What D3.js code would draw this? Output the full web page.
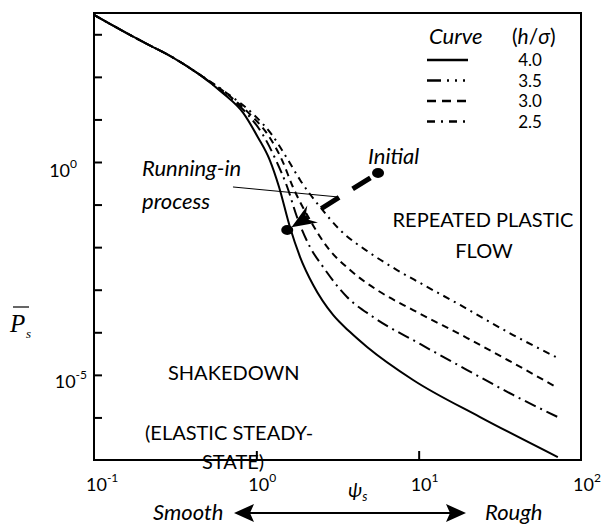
<!DOCTYPE html>
<html>
<head>
<meta charset="utf-8">
<script src="https://cdn.jsdelivr.net/npm/d3@7"></script>
<style>
  body { margin: 0; background: #fff; }
  text { font-family: Lato, "Noto Sans", sans-serif; fill: #000; }
</style>
</head>
<body>
<script>
// values (psi_s on x, P_s on y, both log)
const hRatio = ["4.0", "3.5", "3.0", "2.5"];

const psi40 = [0.1, 0.19, 0.31, 0.45, 0.62, 0.83, 1.02, 1.21, 1.38, 1.61, 1.86, 2.24, 2.97, 3.78, 4.81, 9.24, 23.9, 72];
const p40   = [2840, 735, 277, 111, 41.8, 14.2, 3.87, 1.11, 0.259, 0.0297, 0.00586, 0.00129, 2.55e-4, 1.01e-4, 4.51e-5, 7.57e-6, 1.02e-6, 1.17e-7];

const psi35 = [0.1, 0.19, 0.31, 0.45, 0.64, 0.88, 1.10, 1.32, 1.55, 1.78, 2.14, 2.58, 3.62, 5.24, 10.2, 19.9, 38.2, 72];
const p35   = [2840, 735, 277, 111, 39.6, 13.4, 4.31, 1.11, 0.259, 0.0511, 0.0101, 0.00341, 6.74e-4, 2.29e-4, 5.31e-5, 1.30e-5, 3.37e-6, 1.02e-6];

const psi30 = [0.1, 0.19, 0.31, 0.45, 0.66, 0.91, 1.18, 1.44, 1.68, 2.14, 2.73, 3.78, 5.54, 9.24, 19.9, 38.2, 72];
const p30   = [2840, 735, 277, 111, 39.6, 13.4, 4.31, 1.11, 0.259, 0.0434, 0.0101, 0.00290, 9.84e-4, 3.33e-4, 7.33e-5, 1.90e-5, 4.91e-6];

const psi25 = [0.1, 0.19, 0.31, 0.45, 0.67, 0.955, 1.25, 1.57, 1.86, 2.47, 3.28, 5.02, 7.36, 10.2, 18.0, 38.2, 72];
const p25   = [2840, 735, 277, 111, 39.6, 13.4, 4.31, 1.11, 0.378, 0.0877, 0.0253, 0.00728, 0.00290, 0.00144, 4.38e-4, 8.63e-5, 2.49e-5];

const xTicks = [0.1, 1, 10, 100];
const xTickExp = ["-1", "0", "1", "2"];
const yTicks = [1e3, 1e2, 1e1, 1e0, 1e-1, 1e-2, 1e-3, 1e-4, 1e-5, 1e-6];
const yLabelTicks = [1e0, 1e-5];
const yLabelExp = ["0", "-5"];

// running-in arrow: initial state -> final state, and leader line of the label
const initialPt = [5.62, 0.552];
const finalPt = [1.55, 0.0253];
const leaderPts = [[0.718, 0.259], [3.18, 0.151]];

var margin = {top: 13, right: 24, bottom: 65, left: 94},
    width = 605 - margin.left - margin.right,
    height = 525 - margin.top - margin.bottom;

var svg = d3.select("body").append("svg")
    .attr("width", 605)
    .attr("height", 525);

var g = svg.append("g")
    .attr("transform", "translate(" + margin.left + "," + margin.top + ")");

var x = d3.scaleLog().domain([0.1, 100]).range([0, width]);
var y = d3.scaleLog().domain([1e-7, Math.pow(10, 3.5)]).range([height, 0]);

// inward ticks
var yAx = g.append("g")
    .call(d3.axisRight(y).tickValues(yTicks).tickSize(8).tickFormat(""));
yAx.select(".domain").remove();
yAx.selectAll("line").attr("stroke-width", 2);

var xAx = g.append("g")
    .attr("transform", "translate(0," + height + ")")
    .call(d3.axisTop(x).tickValues([1, 10]).tickSize(9).tickFormat(""));
xAx.select(".domain").remove();
xAx.selectAll("line").attr("stroke-width", 2);

// x tick labels
xTicks.forEach(function(v, i) {
  var t = g.append("text")
      .attr("x", x(v) - 8)
      .attr("y", height + 31)
      .attr("font-size", 18)
      .text("10");
  t.append("tspan").attr("dy", -9).attr("font-size", 12).text(xTickExp[i]);
});

// y tick labels
yLabelTicks.forEach(function(v, i) {
  var t = g.append("text")
      .attr("x", i == 0 ? -17 : -7)
      .attr("y", y(v) + (i == 0 ? 15 : 13))
      .attr("text-anchor", "end")
      .attr("font-size", 18)
      .text("10");
  t.append("tspan").attr("dy", -9).attr("font-size", 12).text(yLabelExp[i]);
});

// curves
var series = [
  {h: hRatio[0], psi: psi40, p: p40, dash: null},
  {h: hRatio[1], psi: psi35, p: p35, dash: "12,5,2,5"},
  {h: hRatio[2], psi: psi30, p: p30, dash: "7,5"},
  {h: hRatio[3], psi: psi25, p: p25, dash: "7,5,2,5"}
];
var legendDash = [null, "14,6,2,6,2,6,2,6", "9,6", "8,6,2,6"];

var line = d3.line()
    .x(function(d) { return x(d[0]); })
    .y(function(d) { return y(d[1]); })
    .curve(d3.curveMonotoneX);

series.forEach(function(s) {
  g.append("path")
      .datum(d3.zip(s.psi, s.p))
      .attr("fill", "none")
      .attr("stroke", "#000")
      .attr("stroke-width", 2)
      .attr("stroke-dasharray", s.dash)
      .attr("d", line);
});

// frame
g.append("rect")
    .attr("width", width).attr("height", height)
    .attr("fill", "none").attr("stroke", "#000").attr("stroke-width", 2);

// legend
svg.append("text").attr("x", 429).attr("y", 44).attr("font-size", 22)
    .attr("font-style", "italic").text("Curve");
var lt = svg.append("text").attr("x", 512).attr("y", 44).attr("font-size", 21);
lt.append("tspan").text("(");
lt.append("tspan").attr("font-style", "italic").text("h");
lt.append("tspan").text("/");
lt.append("tspan").attr("font-style", "italic").text("σ");
lt.append("tspan").text(")");

series.forEach(function(s, i) {
  var ly = 60 + i * 20.5;
  svg.append("line")
      .attr("x1", 427).attr("x2", 468).attr("y1", ly).attr("y2", ly)
      .attr("stroke", "#000").attr("stroke-width", 2.5)
      .attr("stroke-dasharray", legendDash[i]);
  svg.append("text").attr("x", 530).attr("y", ly + 6)
      .attr("text-anchor", "middle").attr("font-size", 17).text(s.h);
});

// running-in annotation
g.append("line")
    .attr("x1", x(leaderPts[0][0])).attr("y1", y(leaderPts[0][1]))
    .attr("x2", x(leaderPts[1][0])).attr("y2", y(leaderPts[1][1]))
    .attr("stroke", "#000").attr("stroke-width", 1);

var a = [x(initialPt[0]), y(initialPt[1])],
    b = [x(finalPt[0]), y(finalPt[1])];
var dx = b[0] - a[0], dy = b[1] - a[1], len = Math.sqrt(dx * dx + dy * dy);
var ux = dx / len, uy = dy / len, px = -uy, py = ux;
var tip = [b[0] - 5 * ux, b[1] - 5 * uy];
var notch = [tip[0] - 16 * ux, tip[1] - 16 * uy];

g.append("line")
    .attr("x1", a[0]).attr("y1", a[1])
    .attr("x2", notch[0]).attr("y2", notch[1])
    .attr("stroke", "#000").attr("stroke-width", 5)
    .attr("stroke-dasharray", "21,16").attr("stroke-dashoffset", 28);

var back = [tip[0] - 25 * ux, tip[1] - 25 * uy];
g.append("path")
    .attr("d", "M" + tip + "L" + [back[0] + 10 * px, back[1] + 10 * py] +
         "L" + notch + "L" + [back[0] - 10 * px, back[1] - 10 * py] + "Z")
    .attr("fill", "#000");

[a, b].forEach(function(c) {
  g.append("ellipse").attr("cx", c[0]).attr("cy", c[1])
      .attr("rx", 6).attr("ry", 5).attr("fill", "#000");
});

// region labels
svg.append("text").attr("x", 142).attr("y", 176).attr("font-size", 22)
    .attr("font-style", "italic").text("Running-in");
svg.append("text").attr("x", 142).attr("y", 209).attr("font-size", 22)
    .attr("font-style", "italic").text("process");
svg.append("text").attr("x", 368).attr("y", 164).attr("font-size", 22)
    .attr("font-style", "italic").text("Initial");
svg.append("text").attr("x", 483).attr("y", 227).attr("font-size", 20)
    .attr("text-anchor", "middle").text("REPEATED PLASTIC");
svg.append("text").attr("x", 484).attr("y", 258).attr("font-size", 20)
    .attr("text-anchor", "middle").text("FLOW");
svg.append("text").attr("x", 168).attr("y", 380).attr("font-size", 20)
    .text("SHAKEDOWN");
svg.append("text").attr("x", 145).attr("y", 440).attr("font-size", 20)
    .text("(ELASTIC STEADY-");
svg.append("text").attr("x", 202).attr("y", 469).attr("font-size", 20)
    .text("STATE)");

// axis titles
svg.append("text").attr("x", 10).attr("y", 332)
    .style("font-family", "'Liberation Serif', serif")
    .attr("font-size", 25).attr("font-style", "italic").text("P");
svg.append("line").attr("x1", 13).attr("x2", 29).attr("y1", 307).attr("y2", 307)
    .attr("stroke", "#000").attr("stroke-width", 1.2);
svg.append("text").attr("x", 26).attr("y", 338)
    .style("font-family", "'Liberation Serif', serif")
    .attr("font-size", 13).attr("font-style", "italic").text("s");

var xt = svg.append("text").attr("x", 348).attr("y", 497).attr("font-size", 20)
    .attr("font-style", "italic");
xt.append("tspan").text("ψ");
xt.append("tspan").attr("dy", 4).attr("font-size", 13).text("s");

// smooth <-> rough arrow
svg.append("text").attr("x", 153).attr("y", 520).attr("font-size", 22)
    .attr("font-style", "italic").text("Smooth");
svg.append("text").attr("x", 485).attr("y", 520).attr("font-size", 22)
    .attr("font-style", "italic").text("Rough");
svg.append("line").attr("x1", 245).attr("x2", 455).attr("y1", 513).attr("y2", 513)
    .attr("stroke", "#000").attr("stroke-width", 2);
svg.append("path").attr("d", "M234,513L254,504L250,513L254,522Z").attr("fill", "#000");
svg.append("path").attr("d", "M466,513L446,504L450,513L446,522Z").attr("fill", "#000");
</script>
</body>
</html>
